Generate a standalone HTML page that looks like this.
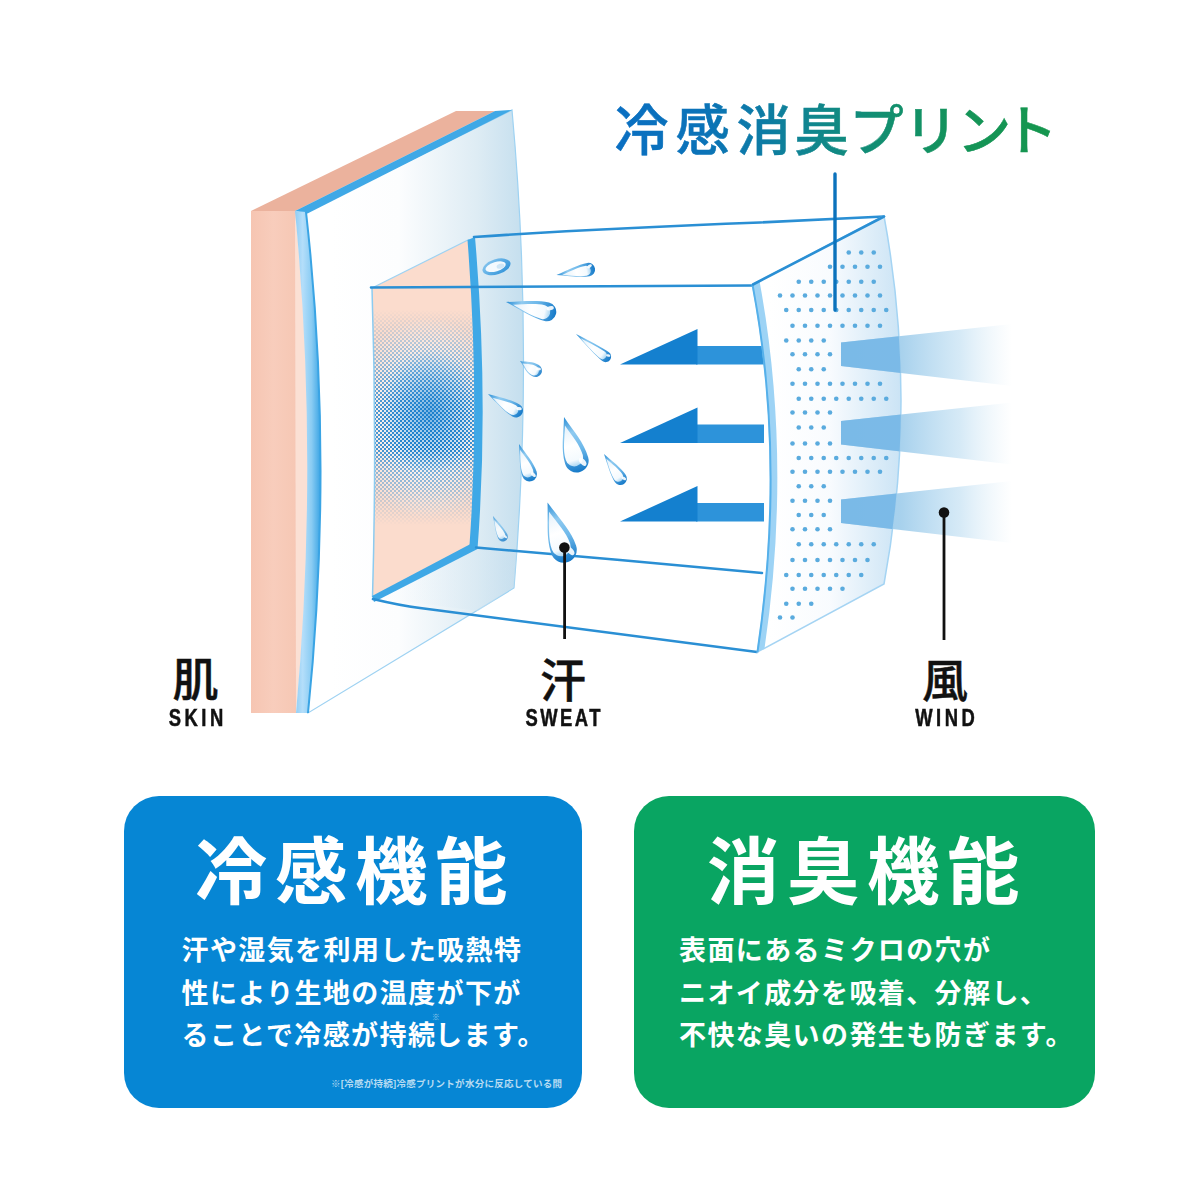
<!DOCTYPE html>
<html lang="ja">
<head>
<meta charset="utf-8">
<title>冷感消臭プリント</title>
<style>
html,body{margin:0;padding:0;background:#fff;}
body{width:1200px;height:1200px;position:relative;overflow:hidden;font-family:"Liberation Sans","Noto Sans CJK JP",sans-serif;}
#art{position:absolute;left:0;top:0;width:1200px;height:1200px;display:block;}
.lbl{position:absolute;color:#111;text-align:center;white-space:nowrap;}
.lbl .k{display:block;font-weight:500;-webkit-text-stroke:0.45px #111;font-size:46px;line-height:46px;}
.lbl .e{display:block;font-weight:700;font-size:23px;line-height:23px;letter-spacing:4.4px;margin-top:3px;transform:scaleX(.8);transform-origin:50% 50%;text-indent:4.4px;-webkit-text-stroke:0.5px #111;}
.box{position:absolute;top:796px;height:312px;border-radius:35px;color:#fff;}
.box h2{position:absolute;margin:0;top:38.5px;font-weight:700;font-size:72.5px;line-height:76px;letter-spacing:7.5px;white-space:nowrap;}
.box p{position:absolute;margin:0;font-weight:700;font-size:27px;line-height:42.5px;letter-spacing:1.4px;white-space:nowrap;}
.box .note{position:absolute;font-size:9.5px;line-height:12px;font-weight:700;color:rgba(255,255,255,.72);white-space:nowrap;letter-spacing:.27px;}
sup{font-size:8px;line-height:0;vertical-align:25px;margin:0 -4.6px;letter-spacing:0;color:rgba(255,255,255,.6);font-weight:500;}
</style>
</head>
<body>
<svg id="art" viewBox="0 0 1200 1200" width="1200" height="1200">
<defs>
  <linearGradient id="ttl" x1="616" y1="0" x2="1050" y2="0" gradientUnits="userSpaceOnUse">
    <stop offset="0" stop-color="#0a6fc2"/><stop offset="0.2" stop-color="#0b73b8"/><stop offset="0.33" stop-color="#0d7ba6"/><stop offset="0.45" stop-color="#10868e"/><stop offset="0.6" stop-color="#128e72"/><stop offset="0.8" stop-color="#149458"/><stop offset="1" stop-color="#15964e"/>
  </linearGradient>
  <linearGradient id="panel" x1="330" y1="0" x2="526" y2="0" gradientUnits="userSpaceOnUse">
    <stop offset="0" stop-color="#ffffff"/><stop offset="0.35" stop-color="#fcfdfe"/><stop offset="0.75" stop-color="#deecf4"/><stop offset="1" stop-color="#c3deee"/>
  </linearGradient>
  <linearGradient id="strip" x1="0" y1="0" x2="1" y2="0">
    <stop offset="0" stop-color="#8fcdf4"/><stop offset="0.3" stop-color="#b4defa"/><stop offset="0.65" stop-color="#8accf3"/><stop offset="1" stop-color="#3aa4e4"/>
  </linearGradient>
  <linearGradient id="skin" x1="251" y1="0" x2="296" y2="0" gradientUnits="userSpaceOnUse">
    <stop offset="0" stop-color="#f6c5b2"/><stop offset="0.5" stop-color="#f8cdbc"/><stop offset="1" stop-color="#f6c7b4"/>
  </linearGradient>
  <linearGradient id="print" x1="770" y1="0" x2="902" y2="0" gradientUnits="userSpaceOnUse">
    <stop offset="0" stop-color="#ffffff"/><stop offset="0.45" stop-color="#f8fbfe"/><stop offset="1" stop-color="#c6e1f4"/>
  </linearGradient>
  <linearGradient id="beam" x1="841" y1="0" x2="1012" y2="0" gradientUnits="userSpaceOnUse">
    <stop offset="0" stop-color="#9fcdec" stop-opacity="1"/>
    <stop offset="0.35" stop-color="#a3cfec" stop-opacity="0.95"/>
    <stop offset="0.7" stop-color="#b5d9f0" stop-opacity="0.55"/>
    <stop offset="1" stop-color="#cfe6f5" stop-opacity="0"/>
  </linearGradient>
  <clipPath id="printClip"><path d="M752.5,284.5 L884,216 Q918,400 884,584 L757.5,652 Q786,460 752.5,284.5Z"/></clipPath>
  <linearGradient id="floor" x1="372" y1="0" x2="515" y2="0" gradientUnits="userSpaceOnUse">
    <stop offset="0" stop-color="#ffffff" stop-opacity="0.2"/><stop offset="1" stop-color="#c5deee" stop-opacity="0.5"/>
  </linearGradient>
  <linearGradient id="dropOut2" x1="0" y1="0" x2="1" y2="1">
    <stop offset="0" stop-color="#8fcaf0"/><stop offset="0.5" stop-color="#5aace4"/><stop offset="1" stop-color="#2a8ed6"/>
  </linearGradient>
  <linearGradient id="dropFill" x1="0" y1="0" x2="0" y2="1">
    <stop offset="0" stop-color="#e3f1fb"/><stop offset="0.5" stop-color="#ffffff"/><stop offset="0.85" stop-color="#f4fafe"/><stop offset="1" stop-color="#a9d6f3"/>
  </linearGradient>
  <linearGradient id="dropOut" x1="0" y1="0" x2="0" y2="1">
    <stop offset="0" stop-color="#2a8ed6"/><stop offset="0.3" stop-color="#8fcaf0"/><stop offset="0.6" stop-color="#6db8ea"/><stop offset="1" stop-color="#1579c8"/>
  </linearGradient>
  <radialGradient id="htWhite" cx="428" cy="418" r="1" gradientUnits="userSpaceOnUse" gradientTransform="translate(428 418) scale(85 100) translate(-428 -418)">
    <stop offset="0" stop-color="#f2faff" stop-opacity="0.95"/><stop offset="0.5" stop-color="#f6fbff" stop-opacity="0.7"/><stop offset="1" stop-color="#ffffff" stop-opacity="0"/>
  </radialGradient>
  <radialGradient id="htSolid" cx="430" cy="412" r="1" gradientUnits="userSpaceOnUse" gradientTransform="translate(430 412) scale(50 62) translate(-430 -412)">
    <stop offset="0" stop-color="#1c80cf" stop-opacity="0.6"/><stop offset="0.5" stop-color="#2a8ad4" stop-opacity="0.3"/><stop offset="1" stop-color="#2a8ad4" stop-opacity="0"/>
  </radialGradient>
  <linearGradient id="htV" x1="0" y1="310" x2="0" y2="525" gradientUnits="userSpaceOnUse">
    <stop offset="0" stop-color="#fff" stop-opacity="0"/>
    <stop offset="0.047" stop-color="#fff" stop-opacity="0.1"/>
    <stop offset="0.14" stop-color="#fff" stop-opacity="0.3"/>
    <stop offset="0.233" stop-color="#fff" stop-opacity="0.5"/>
    <stop offset="0.326" stop-color="#fff" stop-opacity="0.75"/>
    <stop offset="0.42" stop-color="#fff" stop-opacity="0.95"/>
    <stop offset="0.47" stop-color="#fff" stop-opacity="1"/>
    <stop offset="0.65" stop-color="#fff" stop-opacity="1"/>
    <stop offset="0.745" stop-color="#fff" stop-opacity="0.6"/>
    <stop offset="0.84" stop-color="#fff" stop-opacity="0.4"/>
    <stop offset="0.91" stop-color="#fff" stop-opacity="0.2"/>
    <stop offset="1" stop-color="#fff" stop-opacity="0"/>
  </linearGradient>
  <linearGradient id="htH" x1="370" y1="0" x2="480" y2="0" gradientUnits="userSpaceOnUse">
    <stop offset="0" stop-color="#fff" stop-opacity="0.75"/><stop offset="0.3" stop-color="#fff" stop-opacity="0.95"/><stop offset="0.55" stop-color="#fff" stop-opacity="1"/><stop offset="0.8" stop-color="#fff" stop-opacity="0.95"/><stop offset="1" stop-color="#fff" stop-opacity="0.8"/>
  </linearGradient>
  <pattern id="ht" width="4" height="4" patternUnits="userSpaceOnUse" patternTransform="translate(372 288)">
    <rect x="0" y="0" width="2" height="2" fill="#1c80cc" shape-rendering="crispEdges"/><rect x="2" y="2" width="2" height="2" fill="#1c80cc" shape-rendering="crispEdges"/>
  </pattern>
  <mask id="htmV" maskUnits="userSpaceOnUse" x="360" y="230" width="140" height="380">
    <rect x="360" y="230" width="140" height="380" fill="url(#htV)"/>
  </mask>
  <mask id="htmH" maskUnits="userSpaceOnUse" x="360" y="230" width="140" height="380">
    <rect x="360" y="230" width="140" height="380" fill="url(#htH)"/>
  </mask>
  <clipPath id="faceClip"><path d="M372,288 L469,239.5 Q482,400 472,547 L372.5,597 Q377,440 372,288Z"/></clipPath>
</defs>

<!-- skin slab -->
<path d="M251,211 L456,111 L495,111 L295,211Z" fill="#ebb29d"/>
<path d="M251,211 L296,211 L296,713 L251,713Z" fill="url(#skin)"/>
<path d="M295,211 Q321,460 296,713Z" fill="#fbe0d4"/>
<!-- big fabric panel -->
<path d="M306,212 L512,110 Q534,350 514,588 L308,713 Q327,450 306,212Z" fill="url(#panel)" stroke="#9ed2f2" stroke-width="1.2"/>
<!-- blue edge of panel -->
<path d="M295,211 L495,111 L512,110 L307.5,213.5Z" fill="#3fa8e6"/>
<path d="M295,211 L306,212 Q334,460 308,713 L296,713 Q319,460 295,211Z" fill="url(#strip)"/>
<path d="M306,212 Q334,460 308,713" fill="none" stroke="#3aa4e4" stroke-width="2"/>

<!-- box: floor tint -->
<path d="M372.5,597 L474,547 L517,551 L514,587 L478,611Z" fill="url(#floor)"/>
<!-- box left face -->
<path d="M372,288 L469,239.5 Q482,400 472,547 L372.5,597 Q377,440 372,288Z" fill="#fbdccd"/>
<g clip-path="url(#faceClip)">
  <rect x="360" y="230" width="140" height="380" fill="url(#htWhite)"/>
  <rect x="360" y="230" width="140" height="380" fill="url(#htSolid)"/>
  <g mask="url(#htmV)"><rect x="360" y="230" width="140" height="380" fill="url(#ht)" mask="url(#htmH)"/></g>
</g>
<path d="M372,288 Q377,440 372.5,597" fill="none" stroke="#8ccbf0" stroke-width="1.5"/>
<path d="M372,288 L469,239.5" fill="none" stroke="#9ed2f2" stroke-width="1.2"/>
<!-- box thick blue edges -->
<path d="M467.5,240 L475,237 Q489,400 477.5,549 L469.5,545 Q480,400 467.5,240Z" fill="#3fa8e6"/>
<path d="M372,596 L470.5,544 L477.5,549 L374,602Z" fill="#3fa8e6"/>
<!-- box thin edges -->
<g fill="none" stroke="#2a8fd4" stroke-width="2.6" stroke-linecap="round">
  <path d="M371,287.5 L752,285.5"/>
  <path d="M474,237 Q600,228.5 760,222.5 L884,216.5"/>
  <path d="M476,547.5 L620,560 L762,573"/>
  <path d="M373,599 Q400,605.5 420,608 L757,652"/>
</g>

<!-- water drops -->
<g transform="translate(496.5 266.8) rotate(-17)">
  <ellipse cx="0" cy="0" rx="14.5" ry="7.6" fill="url(#dropOut2)"/>
  <ellipse cx="-0.8" cy="-0.3" rx="10.5" ry="4.6" fill="#f4fafe"/>
  <ellipse cx="4" cy="0.5" rx="4" ry="2.4" fill="#cfe6f6"/>
</g>
<g transform="translate(556.5,275) rotate(-99.6)" opacity="1"><path d="M0,0 C3.04,11.71 6.75,23.52 6.75,32.29 A6.75,6.75 0 1 1 -6.75,32.29 C-6.75,23.52 -3.04,11.71 0,0Z" fill="url(#dropOut)"/><path d="M0,0 C3.04,11.71 6.75,23.52 6.75,32.29 A6.75,6.75 0 1 1 -6.75,32.29 C-6.75,23.52 -3.04,11.71 0,0Z" transform="translate(-0.81,21.87) scale(0.74) translate(0,-21.87)" fill="url(#dropFill)"/><ellipse cx="3.04" cy="33.98" rx="1.49" ry="2.70" fill="#fff" opacity="0.9" transform="rotate(-25 3.04 33.98)"/></g>
<g transform="translate(506,302) rotate(-76.5)" opacity="1"><path d="M0,0 C4.28,15.43 9.50,29.57 9.50,41.92 A9.50,9.50 0 1 1 -9.50,41.92 C-9.50,29.57 -4.28,15.43 0,0Z" fill="url(#dropOut)"/><path d="M0,0 C4.28,15.43 9.50,29.57 9.50,41.92 A9.50,9.50 0 1 1 -9.50,41.92 C-9.50,29.57 -4.28,15.43 0,0Z" transform="translate(-1.14,28.80) scale(0.74) translate(0,-28.80)" fill="url(#dropFill)"/><ellipse cx="4.28" cy="44.29" rx="2.09" ry="3.80" fill="#fff" opacity="0.9" transform="rotate(-25 4.28 44.29)"/></g>
<g transform="translate(576,334) rotate(-52.6)" opacity="1"><path d="M0,0 C2.48,12.84 5.50,30.15 5.50,37.30 A5.50,5.50 0 1 1 -5.50,37.30 C-5.50,30.15 -2.48,12.84 0,0Z" fill="url(#dropOut)"/><path d="M0,0 C2.48,12.84 5.50,30.15 5.50,37.30 A5.50,5.50 0 1 1 -5.50,37.30 C-5.50,30.15 -2.48,12.84 0,0Z" transform="translate(-0.66,23.97) scale(0.74) translate(0,-23.97)" fill="url(#dropFill)"/><ellipse cx="2.48" cy="38.68" rx="1.21" ry="2.20" fill="#fff" opacity="0.9" transform="rotate(-25 2.48 38.68)"/></g>
<g transform="translate(520,361) rotate(-58.2)" opacity="0.9"><path d="M0,0 C2.93,7.41 6.50,9.75 6.50,18.20 A6.50,6.50 0 1 1 -6.50,18.20 C-6.50,9.75 -2.93,7.41 0,0Z" fill="url(#dropOut)"/><path d="M0,0 C2.93,7.41 6.50,9.75 6.50,18.20 A6.50,6.50 0 1 1 -6.50,18.20 C-6.50,9.75 -2.93,7.41 0,0Z" transform="translate(-0.78,13.83) scale(0.74) translate(0,-13.83)" fill="url(#dropFill)"/><ellipse cx="2.93" cy="19.82" rx="1.43" ry="2.60" fill="#fff" opacity="0.9" transform="rotate(-25 2.93 19.82)"/></g>
<g transform="translate(488,394) rotate(-59.5)" opacity="1"><path d="M0,0 C3.15,11.83 7.00,23.35 7.00,32.45 A7.00,7.00 0 1 1 -7.00,32.45 C-7.00,23.35 -3.15,11.83 0,0Z" fill="url(#dropOut)"/><path d="M0,0 C3.15,11.83 7.00,23.35 7.00,32.45 A7.00,7.00 0 1 1 -7.00,32.45 C-7.00,23.35 -3.15,11.83 0,0Z" transform="translate(-0.84,22.09) scale(0.74) translate(0,-22.09)" fill="url(#dropFill)"/><ellipse cx="3.15" cy="34.20" rx="1.54" ry="2.80" fill="#fff" opacity="0.9" transform="rotate(-25 3.15 34.20)"/></g>
<g transform="translate(564,417) rotate(-16.2)" opacity="1"><path d="M0,0 C5.40,17.18 12.00,29.68 12.00,45.28 A12.00,12.00 0 1 1 -12.00,45.28 C-12.00,29.68 -5.40,17.18 0,0Z" fill="url(#dropOut)"/><path d="M0,0 C5.40,17.18 12.00,29.68 12.00,45.28 A12.00,12.00 0 1 1 -12.00,45.28 C-12.00,29.68 -5.40,17.18 0,0Z" transform="translate(-1.44,32.08) scale(0.74) translate(0,-32.08)" fill="url(#dropFill)"/><ellipse cx="5.40" cy="48.28" rx="2.64" ry="4.80" fill="#fff" opacity="0.9" transform="rotate(-25 5.40 48.28)"/></g>
<g transform="translate(519,444) rotate(-19.4)" opacity="1"><path d="M0,0 C3.38,11.77 7.50,21.97 7.50,31.72 A7.50,7.50 0 1 1 -7.50,31.72 C-7.50,21.97 -3.38,11.77 0,0Z" fill="url(#dropOut)"/><path d="M0,0 C3.38,11.77 7.50,21.97 7.50,31.72 A7.50,7.50 0 1 1 -7.50,31.72 C-7.50,21.97 -3.38,11.77 0,0Z" transform="translate(-0.90,21.96) scale(0.74) translate(0,-21.96)" fill="url(#dropFill)"/><ellipse cx="3.38" cy="33.59" rx="1.65" ry="3.00" fill="#fff" opacity="0.9" transform="rotate(-25 3.38 33.59)"/></g>
<g transform="translate(604,454) rotate(-33.7)" opacity="1"><path d="M0,0 C2.93,10.82 6.50,21.11 6.50,29.56 A6.50,6.50 0 1 1 -6.50,29.56 C-6.50,21.11 -2.93,10.82 0,0Z" fill="url(#dropOut)"/><path d="M0,0 C2.93,10.82 6.50,21.11 6.50,29.56 A6.50,6.50 0 1 1 -6.50,29.56 C-6.50,21.11 -2.93,10.82 0,0Z" transform="translate(-0.78,20.19) scale(0.74) translate(0,-20.19)" fill="url(#dropFill)"/><ellipse cx="2.93" cy="31.18" rx="1.43" ry="2.60" fill="#fff" opacity="0.9" transform="rotate(-25 2.93 31.18)"/></g>
<g transform="translate(547.5,502.5) rotate(-19.0)" opacity="1"><path d="M0,0 C5.85,18.88 13.00,33.03 13.00,49.93 A13.00,13.00 0 1 1 -13.00,49.93 C-13.00,33.03 -5.85,18.88 0,0Z" fill="url(#dropOut)"/><path d="M0,0 C5.85,18.88 13.00,33.03 13.00,49.93 A13.00,13.00 0 1 1 -13.00,49.93 C-13.00,33.03 -5.85,18.88 0,0Z" transform="translate(-1.56,35.24) scale(0.74) translate(0,-35.24)" fill="url(#dropFill)"/><ellipse cx="5.85" cy="53.18" rx="2.86" ry="5.20" fill="#fff" opacity="0.9" transform="rotate(-25 5.85 53.18)"/></g>
<g transform="translate(493,516) rotate(-25.6)" opacity="0.8"><path d="M0,0 C2.25,8.32 5.00,16.23 5.00,22.73 A5.00,5.00 0 1 1 -5.00,22.73 C-5.00,16.23 -2.25,8.32 0,0Z" fill="url(#dropOut)"/><path d="M0,0 C2.25,8.32 5.00,16.23 5.00,22.73 A5.00,5.00 0 1 1 -5.00,22.73 C-5.00,16.23 -2.25,8.32 0,0Z" transform="translate(-0.60,15.53) scale(0.74) translate(0,-15.53)" fill="url(#dropFill)"/><ellipse cx="2.25" cy="23.98" rx="1.10" ry="2.00" fill="#fff" opacity="0.9" transform="rotate(-25 2.25 23.98)"/></g>

<!-- arrows -->
<rect x="696" y="346" width="68" height="18.5" fill="#2d93da"/><path d="M620,364.5 L697.5,329 L697.5,364.5Z" fill="#1480cf"/><rect x="696" y="424.5" width="68" height="18.5" fill="#2d93da"/><path d="M620,443.0 L697.5,407.5 L697.5,443.0Z" fill="#1480cf"/><rect x="696" y="503" width="68" height="18.5" fill="#2d93da"/><path d="M620,521.5 L697.5,486 L697.5,521.5Z" fill="#1480cf"/>

<!-- print panel -->
<path d="M752.5,284.5 L884,216 Q918,400 884,584 L757.5,652 Q786,460 752.5,284.5Z" fill="url(#print)" fill-opacity="0.93" stroke="#a5d4f3" stroke-width="1.5"/>
<path d="M752.5,284.5 L759.5,281 Q792.5,460 764.5,648.5 L757.5,652 Q786,460 752.5,284.5Z" fill="#9dd3f5"/>
<path d="M752.5,284.5 Q786,460 757.5,652" fill="none" stroke="#55b0ea" stroke-width="2"/>
<path d="M753,284.5 L884,216.5" fill="none" stroke="#2a8fd4" stroke-width="2.6" stroke-linecap="round"/>
<g fill="#5aabde"><circle cx="848.75" cy="252.5" r="2.3"/><circle cx="861.25" cy="252.5" r="2.3"/><circle cx="873.75" cy="252.5" r="2.3"/><circle cx="830" cy="266.75" r="2.3"/><circle cx="842.5" cy="266.75" r="2.3"/><circle cx="855" cy="266.75" r="2.3"/><circle cx="867.5" cy="266.75" r="2.3"/><circle cx="880" cy="266.75" r="2.3"/><circle cx="798.75" cy="281.75" r="2.3"/><circle cx="811.25" cy="281.75" r="2.3"/><circle cx="823.75" cy="281.75" r="2.3"/><circle cx="836.25" cy="281.75" r="2.3"/><circle cx="848.75" cy="281.75" r="2.3"/><circle cx="861.25" cy="281.75" r="2.3"/><circle cx="873.75" cy="281.75" r="2.3"/><circle cx="780" cy="295.5" r="2.3"/><circle cx="792.5" cy="295.5" r="2.3"/><circle cx="805" cy="295.5" r="2.3"/><circle cx="817.5" cy="295.5" r="2.3"/><circle cx="830" cy="295.5" r="2.3"/><circle cx="842.5" cy="295.5" r="2.3"/><circle cx="855" cy="295.5" r="2.3"/><circle cx="867.5" cy="295.5" r="2.3"/><circle cx="880" cy="295.5" r="2.3"/><circle cx="786.25" cy="310" r="2.3"/><circle cx="798.75" cy="310" r="2.3"/><circle cx="811.25" cy="310" r="2.3"/><circle cx="823.75" cy="310" r="2.3"/><circle cx="836.25" cy="310" r="2.3"/><circle cx="848.75" cy="310" r="2.3"/><circle cx="861.25" cy="310" r="2.3"/><circle cx="873.75" cy="310" r="2.3"/><circle cx="886.25" cy="310" r="2.3"/><circle cx="792.5" cy="325.75" r="2.3"/><circle cx="805" cy="325.75" r="2.3"/><circle cx="817.5" cy="325.75" r="2.3"/><circle cx="830" cy="325.75" r="2.3"/><circle cx="842.5" cy="325.75" r="2.3"/><circle cx="855" cy="325.75" r="2.3"/><circle cx="867.5" cy="325.75" r="2.3"/><circle cx="880" cy="325.75" r="2.3"/><circle cx="786.25" cy="340.5" r="2.3"/><circle cx="798.75" cy="340.5" r="2.3"/><circle cx="811.25" cy="340.5" r="2.3"/><circle cx="823.75" cy="340.5" r="2.3"/><circle cx="792.5" cy="354.25" r="2.3"/><circle cx="805" cy="354.25" r="2.3"/><circle cx="817.5" cy="354.25" r="2.3"/><circle cx="830" cy="354.25" r="2.3"/><circle cx="798.75" cy="369.25" r="2.3"/><circle cx="811.25" cy="369.25" r="2.3"/><circle cx="823.75" cy="369.25" r="2.3"/><circle cx="792.5" cy="383.75" r="2.3"/><circle cx="805" cy="383.75" r="2.3"/><circle cx="817.5" cy="383.75" r="2.3"/><circle cx="830" cy="383.75" r="2.3"/><circle cx="842.5" cy="383.75" r="2.3"/><circle cx="855" cy="383.75" r="2.3"/><circle cx="867.5" cy="383.75" r="2.3"/><circle cx="880" cy="383.75" r="2.3"/><circle cx="798.75" cy="398.75" r="2.3"/><circle cx="811.25" cy="398.75" r="2.3"/><circle cx="823.75" cy="398.75" r="2.3"/><circle cx="836.25" cy="398.75" r="2.3"/><circle cx="848.75" cy="398.75" r="2.3"/><circle cx="861.25" cy="398.75" r="2.3"/><circle cx="873.75" cy="398.75" r="2.3"/><circle cx="886.25" cy="398.75" r="2.3"/><circle cx="792.5" cy="412.5" r="2.3"/><circle cx="805" cy="412.5" r="2.3"/><circle cx="817.5" cy="412.5" r="2.3"/><circle cx="830" cy="412.5" r="2.3"/><circle cx="798.75" cy="427.5" r="2.3"/><circle cx="811.25" cy="427.5" r="2.3"/><circle cx="823.75" cy="427.5" r="2.3"/><circle cx="792.5" cy="443.5" r="2.3"/><circle cx="805" cy="443.5" r="2.3"/><circle cx="817.5" cy="443.5" r="2.3"/><circle cx="830" cy="443.5" r="2.3"/><circle cx="798.75" cy="458" r="2.3"/><circle cx="811.25" cy="458" r="2.3"/><circle cx="823.75" cy="458" r="2.3"/><circle cx="836.25" cy="458" r="2.3"/><circle cx="848.75" cy="458" r="2.3"/><circle cx="861.25" cy="458" r="2.3"/><circle cx="873.75" cy="458" r="2.3"/><circle cx="886.25" cy="458" r="2.3"/><circle cx="792.5" cy="471.75" r="2.3"/><circle cx="805" cy="471.75" r="2.3"/><circle cx="817.5" cy="471.75" r="2.3"/><circle cx="830" cy="471.75" r="2.3"/><circle cx="842.5" cy="471.75" r="2.3"/><circle cx="855" cy="471.75" r="2.3"/><circle cx="867.5" cy="471.75" r="2.3"/><circle cx="880" cy="471.75" r="2.3"/><circle cx="798.75" cy="486.25" r="2.3"/><circle cx="811.25" cy="486.25" r="2.3"/><circle cx="823.75" cy="486.25" r="2.3"/><circle cx="792.5" cy="500.75" r="2.3"/><circle cx="805" cy="500.75" r="2.3"/><circle cx="817.5" cy="500.75" r="2.3"/><circle cx="830" cy="500.75" r="2.3"/><circle cx="798.75" cy="515" r="2.3"/><circle cx="811.25" cy="515" r="2.3"/><circle cx="823.75" cy="515" r="2.3"/><circle cx="792.5" cy="529.25" r="2.3"/><circle cx="805" cy="529.25" r="2.3"/><circle cx="817.5" cy="529.25" r="2.3"/><circle cx="830" cy="529.25" r="2.3"/><circle cx="798.75" cy="544.25" r="2.3"/><circle cx="811.25" cy="544.25" r="2.3"/><circle cx="823.75" cy="544.25" r="2.3"/><circle cx="836.25" cy="544.25" r="2.3"/><circle cx="848.75" cy="544.25" r="2.3"/><circle cx="861.25" cy="544.25" r="2.3"/><circle cx="873.75" cy="544.25" r="2.3"/><circle cx="792.5" cy="560" r="2.3"/><circle cx="805" cy="560" r="2.3"/><circle cx="817.5" cy="560" r="2.3"/><circle cx="830" cy="560" r="2.3"/><circle cx="842.5" cy="560" r="2.3"/><circle cx="855" cy="560" r="2.3"/><circle cx="867.5" cy="560" r="2.3"/><circle cx="786.25" cy="575" r="2.3"/><circle cx="798.75" cy="575" r="2.3"/><circle cx="811.25" cy="575" r="2.3"/><circle cx="823.75" cy="575" r="2.3"/><circle cx="836.25" cy="575" r="2.3"/><circle cx="848.75" cy="575" r="2.3"/><circle cx="861.25" cy="575" r="2.3"/><circle cx="792.5" cy="588.75" r="2.3"/><circle cx="805" cy="588.75" r="2.3"/><circle cx="817.5" cy="588.75" r="2.3"/><circle cx="830" cy="588.75" r="2.3"/><circle cx="842.5" cy="588.75" r="2.3"/><circle cx="786.25" cy="603.75" r="2.3"/><circle cx="798.75" cy="603.75" r="2.3"/><circle cx="811.25" cy="603.75" r="2.3"/><circle cx="780" cy="617.5" r="2.3"/><circle cx="792.5" cy="617.5" r="2.3"/></g>
<path d="M841,342.5 L1012,324 L1012,386 L841,366Z" fill="url(#beam)"/><path d="M841,342.5 L1012,324 L1012,386 L841,366Z" fill="#6db3e6" opacity="0.75" clip-path="url(#printClip)"/><path d="M841,421.0 L1012,402.5 L1012,464.5 L841,444.5Z" fill="url(#beam)"/><path d="M841,421.0 L1012,402.5 L1012,464.5 L841,444.5Z" fill="#6db3e6" opacity="0.75" clip-path="url(#printClip)"/><path d="M841,499.5 L1012,481 L1012,543 L841,523Z" fill="url(#beam)"/><path d="M841,499.5 L1012,481 L1012,543 L841,523Z" fill="#6db3e6" opacity="0.75" clip-path="url(#printClip)"/>

<!-- pointers -->
<path d="M835,174 L835,310" stroke="#0b72bc" stroke-width="3.4" stroke-linecap="round" fill="none"/>
<g stroke="#111" stroke-width="2.8" fill="#111">
  <path d="M564.6,548 L564.6,639"/><circle cx="564.4" cy="547.5" r="5.3" stroke="none"/>
  <path d="M944,513 L944,640"/><circle cx="944" cy="512.5" r="5.3" stroke="none"/>
</g>

<text x="614.5 675.5 736.5 794.5 849.5 904 957 1003.5" y="150.4" font-family="'Liberation Sans','Noto Sans CJK JP',sans-serif" font-weight="500" font-size="54.2" fill="url(#ttl)" stroke="url(#ttl)" stroke-width="0.5">冷感消臭プリント</text>
</svg>

<div class="lbl" id="l1" style="left:145.5px;top:657px;width:100px;"><span class="k">肌</span><span class="e" style="margin-top:4px;">SKIN</span></div>
<div class="lbl" id="l2" style="left:503px;top:658px;width:120px;"><span class="k">汗</span><span class="e" style="letter-spacing:3.1px;text-indent:3.1px;">SWEAT</span></div>
<div class="lbl" id="l3" style="left:885px;top:658px;width:120px;"><span class="k">風</span><span class="e">WIND</span></div>

<div class="box" id="b1" style="left:124px;width:458px;background:#0686d4;">
  <h2 style="left:71px;">冷感機能</h2>
  <p style="left:57.5px;top:134px;">汗や湿気を利用した吸熱特<br>性により生地の温度が下が<br>ることで冷感が持続<sup>※</sup>します。</p>
  <div class="note" style="left:207px;top:282px;">※[冷感が持続]冷感プリントが水分に反応している間</div>
</div>
<div class="box" id="b2" style="left:634px;width:461px;background:#09a562;">
  <h2 style="left:73px;">消臭機能</h2>
  <p style="left:45px;top:134px;">表面にあるミクロの穴が<br>ニオイ成分を吸着、分解し、<br>不快な臭いの発生も防ぎます。</p>
</div>
</body>
</html>
